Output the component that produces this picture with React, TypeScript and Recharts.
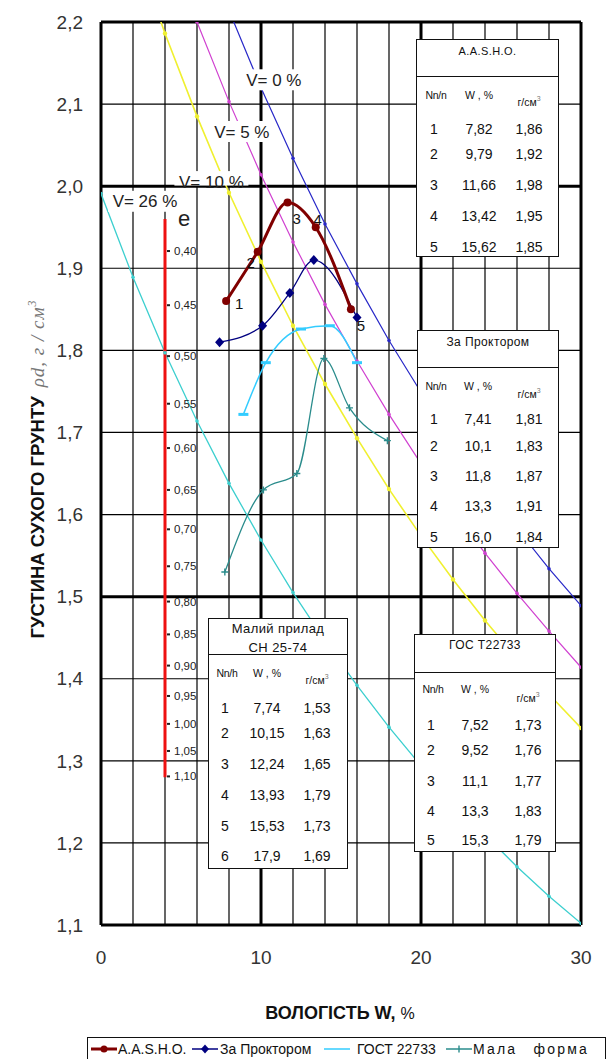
import React from 'react';
import { LineChart, Line, XAxis, YAxis, CartesianGrid, ReferenceDot } from 'recharts';

const FONT = '"Liberation Sans", Arial, Helvetica, sans-serif';

// ---- measured series (W %, dry density g/cm3) ----
const aashoW = [7.82, 9.79, 11.66, 13.42, 15.62];
const aashoRho = [1.86, 1.92, 1.98, 1.95, 1.85];
const aashoPointLabels = ['1', '2', '3', '4', '5'];
const proctorW = [7.41, 10.1, 11.8, 13.3, 16.0];
const proctorRho = [1.81, 1.83, 1.87, 1.91, 1.84];
const gostW = [8.9, 10.3, 12.5, 14.3, 16.0];
const gostRho = [1.722, 1.785, 1.826, 1.83, 1.785];
const malaW = [7.74, 10.15, 12.24, 13.93, 15.53, 17.9];
const malaRho = [1.53, 1.63, 1.65, 1.79, 1.73, 1.69];

// ---- air-void (saturation) lines ----
const voidW = [0, 2, 4, 6, 8, 10, 12, 14, 16, 18, 20, 22, 24, 26, 28, 30];
const v0Rho = [2.69, 2.553, 2.429, 2.316, 2.214, 2.12, 2.034, 1.954, 1.881, 1.812, 1.749, 1.69, 1.635, 1.583, 1.534, 1.489];
const v5Rho = [2.556, 2.425, 2.307, 2.2, 2.103, 2.014, 1.932, 1.856, 1.787, 1.722, 1.662, 1.605, 1.553, 1.504, 1.458, 1.414];
const v10Rho = [2.421, 2.297, 2.186, 2.085, 1.992, 1.908, 1.83, 1.759, 1.693, 1.631, 1.574, 1.521, 1.471, 1.425, 1.381, 1.34];
const v26Rho = [1.991, 1.889, 1.797, 1.714, 1.638, 1.569, 1.505, 1.446, 1.392, 1.341, 1.294, 1.251, 1.21, 1.171, 1.135, 1.102];
const vLabelText = ['V= 0 %', 'V= 5 %', 'V= 10 %', 'V= 26 %'];
const vLabelW = [10.8, 8.8, 6.9, 2.75];
const vLabelRho = [2.129, 2.066, 2.005, 1.981];

// ---- void ratio scale ----
const eScaleW = [4, 4];
const eScaleRho = [1.96, 1.28];
const eTickLabels = ['0,40', '0,45', '0,50', '0,55', '0,60', '0,65', '0,70', '0,75', '0,80', '0,85', '0,90', '0,95', '1,00', '1,05', '1,10'];
const eTickRho = [1.921, 1.855, 1.793, 1.735, 1.681, 1.63, 1.582, 1.537, 1.494, 1.454, 1.416, 1.379, 1.345, 1.312, 1.281];
const eTitleW = [5.2];
const eTitleRho = [1.961];

// ---- axes ----
const xTicks = [0, 10, 20, 30];
const yTicks = [1.1, 1.2, 1.3, 1.4, 1.5, 1.6, 1.7, 1.8, 1.9, 2.0, 2.1, 2.2];
const gridMinorX = [0, 2, 4, 6, 8, 10, 12, 14, 16, 18, 20, 22, 24, 26, 28, 30];
const gridMajorX = [0, 10, 20, 30];
const gridMajorY = [1.1, 1.5, 2.0, 2.2];

// ---- tables ----
const aashoTabN = ['1', '2', '3', '4', '5'];
const aashoTabW = ['7,82', '9,79', '11,66', '13,42', '15,62'];
const aashoTabRho = ['1,86', '1,92', '1,98', '1,95', '1,85'];
const proctorTabN = ['1', '2', '3', '4', '5'];
const proctorTabW = ['7,41', '10,1', '11,8', '13,3', '16,0'];
const proctorTabRho = ['1,81', '1,83', '1,87', '1,91', '1,84'];
const gostTabN = ['1', '2', '3', '4', '5'];
const gostTabW = ['7,52', '9,52', '11,1', '13,3', '15,3'];
const gostTabRho = ['1,73', '1,76', '1,77', '1,83', '1,79'];
const malyiTabN = ['1', '2', '3', '4', '5', '6'];
const malyiTabW = ['7,74', '10,15', '12,24', '13,93', '15,53', '17,9'];
const malyiTabRho = ['1,53', '1,63', '1,65', '1,79', '1,73', '1,69'];

const legendNames = ['A.A.S.H.O.', 'За Проктором', 'ГОСТ 22733', 'Мала форма'];

const C = {
  aasho: '#800000',
  proctor: '#000080',
  gost: '#33CCFF',
  mala: '#2A8C8C',
  v0: '#2828C8',
  v5: '#D040D0',
  v10: '#F0F030',
  v26: '#3CCFCF',
  red: '#EE1111',
};

const pts = (ws: number[], rs: number[]) => ws.map((w, i) => ({ w, r: rs[i] }));

const ok = (p: any) => p && Number.isFinite(p.cx) && Number.isFinite(p.cy);

const smallDot = (color: string, r: number) => (p: any) =>
  ok(p) ? <circle key={`d${p.index}`} cx={p.cx} cy={p.cy} r={r} fill={color} /> : <g key={`d${p?.index}`} />;

const aashoLabelDx = [13, -7, 9, 2, 10];
const aashoLabelDy = [2, 11, 16, -8, 16];

const aashoDot = (p: any) =>
  ok(p) ? (
    <g key={`a${p.index}`}>
      <circle cx={p.cx} cy={p.cy} r={4} fill={C.aasho} />
      <text
        x={p.cx + aashoLabelDx[p.index]}
        y={p.cy + aashoLabelDy[p.index]}
        fontSize={15}
        fontFamily={FONT}
        fill="#111"
        textAnchor="middle"
        dominantBaseline="central"
      >
        {aashoPointLabels[p.index]}
      </text>
    </g>
  ) : (
    <g key={`a${p?.index}`} />
  );

const proctorDot = (p: any) =>
  ok(p) ? (
    <polygon
      key={`p${p.index}`}
      points={`${p.cx},${p.cy - 5} ${p.cx + 4.5},${p.cy} ${p.cx},${p.cy + 5} ${p.cx - 4.5},${p.cy}`}
      fill={C.proctor}
    />
  ) : (
    <g key={`p${p?.index}`} />
  );

const gostDot = (p: any) =>
  ok(p) ? <rect key={`g${p.index}`} x={p.cx - 5} y={p.cy - 1.5} width={10} height={3} fill={C.gost} /> : <g key={`g${p?.index}`} />;

const malaDot = (p: any) =>
  ok(p) ? (
    <path
      key={`m${p.index}`}
      d={`M${p.cx - 3.5},${p.cy}H${p.cx + 3.5}M${p.cx},${p.cy - 3.5}V${p.cy + 3.5}`}
      stroke={C.mala}
      strokeWidth={1.4}
    />
  ) : (
    <g key={`m${p?.index}`} />
  );

const eTickDot = (p: any) =>
  ok(p) ? (
    <g key={`e${p.index}`}>
      <rect x={p.cx + 2} y={p.cy - 1} width={3} height={2} fill="#222" />
      <text x={p.cx + 9} y={p.cy} fontSize={11.5} fontFamily={FONT} fill="#222" dominantBaseline="central">
        {eTickLabels[p.index]}
      </text>
    </g>
  ) : (
    <g key={`e${p?.index}`} />
  );

const vLabelBoxW = [58, 62, 74, 74];

const makeVLabel = (i: number) => (p: any) => {
  const { cx, cy } = p;
  const w = vLabelBoxW[i];
  const bottom = i === 2 ? 3.5 : 10;
  return (
    <g>
      <rect x={cx - w / 2} y={cy - 11} width={w} height={11 + bottom} fill="#fff" />
      <text x={cx} y={cy} fontSize={17} fontFamily={FONT} fill="#222" textAnchor="middle" dominantBaseline="central">
        {vLabelText[i]}
      </text>
    </g>
  );
};

const eTitleShape = (p: any) => (
  <text x={p.cx} y={p.cy} fontSize={22} fontFamily={FONT} fill="#222" textAnchor="middle" dominantBaseline="central">
    e
  </text>
);

type TableSpec = {
  left: number;
  top: number;
  width: number;
  height: number;
  divider: number;
  titles: string[];
  titleYs: number[];
  titleSize: number;
  nHead: string;
  headY: number;
  unitY: number;
  colX: number[];
  rowYs: number[];
  ns: string[];
  ws: string[];
  rhos: string[];
};

const Abs = ({ x, y, children, style }: any) => (
  <div
    style={{
      position: 'absolute',
      left: x,
      top: y,
      transform: 'translate(-50%, -50%)',
      whiteSpace: 'nowrap',
      lineHeight: 1,
      ...style,
    }}
  >
    {children}
  </div>
);

function DataTable({ spec }: { spec: TableSpec }) {
  const s = spec;
  return (
    <div
      style={{
        position: 'absolute',
        left: s.left,
        top: s.top,
        width: s.width,
        height: s.height,
        border: '1.5px solid #111',
        background: '#fff',
        boxSizing: 'border-box',
        fontFamily: FONT,
        color: '#111',
      }}
    >
      <div style={{ position: 'absolute', left: 0, right: 0, top: s.divider, borderTop: '1.5px solid #111' }} />
      {s.titles.map((t, i) => (
        <Abs key={t} x={s.width / 2 - 1} y={s.titleYs[i]} style={{ fontSize: s.titleSize, letterSpacing: 0.4 }}>
          {t}
        </Abs>
      ))}
      <Abs x={s.colX[0] + 2} y={s.headY} style={{ fontSize: 10.5, letterSpacing: -0.3 }}>
        {s.nHead}
      </Abs>
      <Abs x={s.colX[1]} y={s.headY} style={{ fontSize: 10.5 }}>
        W , %
      </Abs>
      <Abs x={s.colX[2]} y={s.unitY} style={{ fontSize: 10.5 }}>
        г/см<sup style={{ fontSize: 7, color: '#777' }}>3</sup>
      </Abs>
      {s.rowYs.map((y, i) => (
        <React.Fragment key={i}>
          <Abs x={s.colX[0]} y={y} style={{ fontSize: 14 }}>
            {s.ns[i]}
          </Abs>
          <Abs x={s.colX[1]} y={y} style={{ fontSize: 14 }}>
            {s.ws[i]}
          </Abs>
          <Abs x={s.colX[2]} y={y} style={{ fontSize: 14 }}>
            {s.rhos[i]}
          </Abs>
        </React.Fragment>
      ))}
    </div>
  );
}

const tables: TableSpec[] = [
  {
    left: 416, top: 39, width: 143, height: 218, divider: 36,
    titles: ['A.A.S.H.O.'], titleYs: [11], titleSize: 11, nHead: 'Nn/n',
    headY: 55, unitY: 61, colX: [17, 62, 112], rowYs: [89, 114, 145, 176, 207],
    ns: aashoTabN, ws: aashoTabW, rhos: aashoTabRho,
  },
  {
    left: 417, top: 330, width: 142, height: 218, divider: 36,
    titles: ['За Проктором'], titleYs: [11], titleSize: 12, nHead: 'Nn/n',
    headY: 55, unitY: 62, colX: [16, 60, 111], rowYs: [88, 115, 145, 175, 206],
    ns: proctorTabN, ws: proctorTabW, rhos: proctorTabRho,
  },
  {
    left: 414, top: 634, width: 142, height: 218, divider: 37,
    titles: ['ГОС Т22733'], titleYs: [10], titleSize: 12, nHead: 'Nn/h',
    headY: 54, unitY: 62, colX: [16, 60, 113], rowYs: [90, 115, 146, 176, 205],
    ns: gostTabN, ws: gostTabW, rhos: gostTabRho,
  },
  {
    left: 208, top: 618, width: 140, height: 251, divider: 35,
    titles: ['Малий прилад', 'СН 25-74'], titleYs: [9, 28], titleSize: 13, nHead: 'Nn/h',
    headY: 54, unitY: 60, colX: [16, 58, 108], rowYs: [89, 114, 145, 176, 207, 237],
    ns: malyiTabN, ws: malyiTabW, rhos: malyiTabRho,
  },
];

const LegendSymbol = ({ kind }: { kind: number }) => {
  const colors = [C.aasho, C.proctor, C.gost, C.mala];
  const col = colors[kind];
  return (
    <svg width={26} height={12} style={{ display: 'block' }}>
      <line x1={0} y1={6} x2={26} y2={6} stroke={col} strokeWidth={kind === 0 ? 3 : 1.5} />
      {kind === 0 && <circle cx={13} cy={6} r={3.5} fill={col} />}
      {kind === 1 && <polygon points="13,1.5 17,6 13,10.5 9,6" fill={col} />}
      {kind === 3 && <path d="M13,2.5V9.5" stroke={col} strokeWidth={1.4} />}
    </svg>
  );
};

const legendSymX = [3, 104, 236, 358];
const legendTextX = [30, 132, 269, 385];
const legendLetterSpacing = [0, 0, 0, 2.2];
const legendWordSpacing = [0, 0, 0, 10];

export default function App() {
  return (
    <div style={{ position: 'absolute', left: 0, top: 0, width: 608, height: 1059, background: '#fff', overflow: 'hidden' }}>
      <LineChart width={608} height={1059} margin={{ top: 22, right: 27, bottom: 94, left: 0 }}>
        <CartesianGrid stroke="#000" strokeWidth={1.2} verticalValues={gridMinorX} horizontalValues={yTicks} />
        <CartesianGrid stroke="#000" strokeWidth={3} verticalValues={gridMajorX} horizontalValues={gridMajorY} />
        <XAxis
          type="number"
          dataKey="w"
          domain={[0, 30]}
          ticks={xTicks}
          allowDataOverflow
          axisLine={false}
          tickLine={false}
          tickSize={0}
          tickMargin={26}
          height={40}
          tick={{ fontSize: 19, fill: '#333', fontFamily: FONT }}
        />
        <YAxis
          type="number"
          dataKey="r"
          domain={[1.1, 2.2]}
          ticks={yTicks}
          allowDataOverflow
          axisLine={false}
          tickLine={false}
          tickSize={0}
          tickMargin={18}
          width={101}
          tickFormatter={(v: number) => v.toFixed(1).replace('.', ',')}
          tick={{ fontSize: 19, fill: '#333', fontFamily: FONT }}
        />
        <Line data={pts(voidW, v26Rho)} dataKey="r" type="linear" stroke={C.v26} strokeWidth={1.3} dot={smallDot(C.v26, 1.8)} isAnimationActive={false} />
        <Line data={pts(voidW, v10Rho)} dataKey="r" type="linear" stroke={C.v10} strokeWidth={1.6} dot={smallDot(C.v10, 2.2)} isAnimationActive={false} />
        <Line data={pts(voidW, v5Rho)} dataKey="r" type="linear" stroke={C.v5} strokeWidth={1.2} dot={smallDot(C.v5, 1.8)} isAnimationActive={false} />
        <Line data={pts(voidW, v0Rho)} dataKey="r" type="linear" stroke={C.v0} strokeWidth={1.2} dot={smallDot(C.v0, 1.8)} isAnimationActive={false} />
        <Line data={pts(eScaleW, eScaleRho)} dataKey="r" type="linear" stroke={C.red} strokeWidth={3} dot={false} isAnimationActive={false} />
        <Line
          data={eTickRho.map((r) => ({ w: eScaleW[0], r }))}
          dataKey="r"
          type="linear"
          stroke="none"
          dot={eTickDot}
          isAnimationActive={false}
        />
        <Line data={pts(malaW, malaRho)} dataKey="r" type="monotone" stroke={C.mala} strokeWidth={1.3} dot={malaDot} isAnimationActive={false} />
        <Line data={pts(gostW, gostRho)} dataKey="r" type="monotone" stroke={C.gost} strokeWidth={1.5} dot={gostDot} isAnimationActive={false} />
        <Line data={pts(proctorW, proctorRho)} dataKey="r" type="monotone" stroke={C.proctor} strokeWidth={1.3} dot={proctorDot} isAnimationActive={false} />
        <Line data={pts(aashoW, aashoRho)} dataKey="r" type="monotone" stroke={C.aasho} strokeWidth={3} dot={aashoDot} isAnimationActive={false} />
        {vLabelText.map((t, i) => (
          <ReferenceDot key={t} x={vLabelW[i]} y={vLabelRho[i]} r={0} shape={makeVLabel(i)} />
        ))}
        <ReferenceDot x={eTitleW[0]} y={eTitleRho[0]} r={0} shape={eTitleShape} />
      </LineChart>

      {tables.map((t, i) => (
        <DataTable key={i} spec={t} />
      ))}

      <div
        style={{
          position: 'absolute',
          left: 37,
          top: 469,
          transform: 'translate(-50%, -50%) rotate(-90deg)',
          whiteSpace: 'nowrap',
          lineHeight: 1,
        }}
      >
        <span style={{ fontFamily: FONT, fontWeight: 'bold', fontSize: 18.5, color: '#111' }}>ГУСТИНА СУХОГО ГРУНТУ</span>
        <span
          style={{
            fontFamily: '"Liberation Serif", serif',
            fontStyle: 'italic',
            fontSize: 19,
            color: '#777',
            marginLeft: 9,
            letterSpacing: 1,
          }}
        >
          ρd, г / см<sup style={{ fontSize: 12 }}>3</sup>
        </span>
      </div>

      <div
        style={{
          position: 'absolute',
          left: 340,
          top: 1013,
          transform: 'translate(-50%, -50%)',
          whiteSpace: 'nowrap',
          lineHeight: 1,
          fontFamily: FONT,
          color: '#111',
        }}
      >
        <span style={{ fontWeight: 'bold', fontSize: 18 }}>ВОЛОГІСТЬ W, </span>
        <span style={{ fontSize: 16 }}>%</span>
      </div>

      <div
        style={{
          position: 'absolute',
          left: 87,
          top: 1037,
          width: 519,
          height: 30,
          border: '1px solid #111',
          background: '#fff',
          boxSizing: 'border-box',
          fontFamily: FONT,
          color: '#111',
        }}
      >
        {legendNames.map((n, i) => (
          <React.Fragment key={n}>
            <div style={{ position: 'absolute', left: legendSymX[i], top: 5 }}>
              <LegendSymbol kind={i} />
            </div>
            <div
              style={{
                position: 'absolute',
                left: legendTextX[i],
                top: 3,
                fontSize: 14,
                whiteSpace: 'nowrap',
                lineHeight: '16px',
                letterSpacing: legendLetterSpacing[i],
                wordSpacing: legendWordSpacing[i],
              }}
            >
              {n}
            </div>
          </React.Fragment>
        ))}
      </div>
    </div>
  );
}
